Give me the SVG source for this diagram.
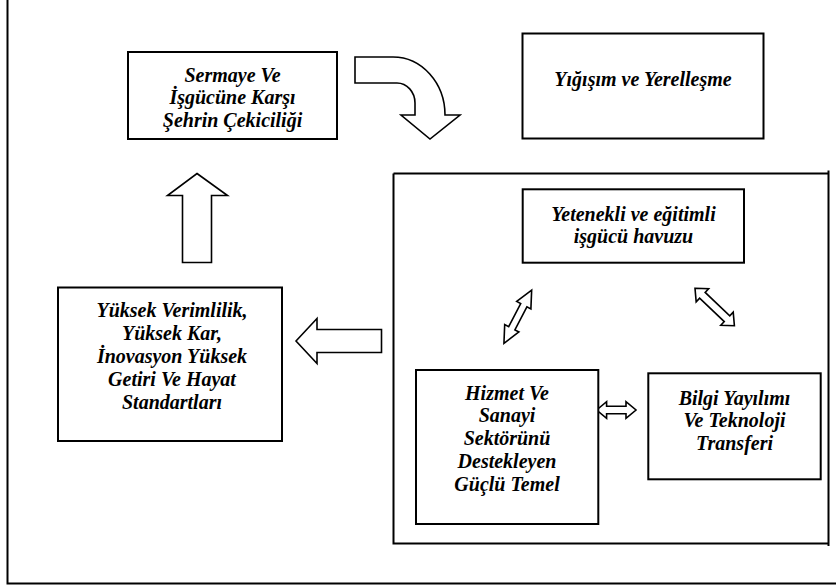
<svg xmlns="http://www.w3.org/2000/svg" width="836" height="587" viewBox="0 0 836 587">
<style>
  .box { fill: #fff; stroke: #000; stroke-width: 2; }
  .frame { fill: none; stroke: #000; stroke-width: 2; }
  .arrow { fill: #fff; stroke: #000; stroke-width: 1.6; stroke-linejoin: miter; }
  text { font-family: 'Liberation Serif', 'Times New Roman', Times, serif; font-size: 20px; font-weight: 700; font-style: italic; text-anchor: middle; fill: #000; }
</style>
<rect x="0" y="0" width="836" height="587" fill="#fff"/>
<g id="outer-frame">
  <path class="frame" d="M7.5,0 V583.5 H836"/>
</g>
<g id="inner-frame">
  <path class="frame" d="M393.5,173.5 H828.5 M828.5,170.5 V546 M393.5,173.5 V543.5 H828.5" stroke-width="1.6"/>
</g>
<g id="connectors">
  <path class="arrow" d="M355,57 L393,57 A52,58 0 0 1 445,115 L460,115 L430,139 L401,115 L415,115 L415,103 A18,20 0 0 0 397,83 L355,83 Z"/>
  <polygon class="arrow" points="197,173.5 227.5,195.5 211.5,195.5 211.5,262.5 182.5,262.5 182.5,195.5 167.5,195.5"/>
  <polygon class="arrow" points="296,341 317,318.5 317,329.5 381.5,329.5 381.5,352.5 317,352.5 317,363.5"/>
  <polygon class="arrow" transform="translate(517.8,316.7) rotate(-62.5)" points="-30,0 -13,-8 -13,-3.5 13,-3.5 13,-8 30,0 13,8 13,3.5 -13,3.5 -13,8"/>
  <polygon class="arrow" transform="translate(714.7,307) rotate(43.6)" points="-27.2,0 -17,-9 -17,-4 17,-4 17,-9 27.2,0 17,9 17,4 -17,4 -17,9"/>
  <polygon class="arrow" transform="translate(616.3,410)" points="-19.7,0 -9.7,-8.3 -9.7,-3.7 9.7,-3.7 9.7,-8.3 19.7,0 9.7,8.3 9.7,3.7 -9.7,3.7 -9.7,8.3"/>
</g>
<g id="n-sermaye">
  <rect class="box" x="128" y="52" width="209" height="87"/>
  <text x="232.5" y="81.5">Sermaye Ve</text>
  <text x="232.5" y="104.3">İşgücüne Karşı</text>
  <text x="232.5" y="127">Şehrin Çekiciliği</text>
</g>
<g id="n-yigisim">
  <rect class="box" x="522.5" y="33.5" width="241" height="105"/>
  <text x="643" y="86">Yığışım ve Yerelleşme</text>
</g>
<g id="n-yetenekli">
  <rect class="box" x="522.7" y="189.3" width="221.3" height="73.4"/>
  <text x="633.5" y="220.5">Yetenekli ve eğitimli</text>
  <text x="633.5" y="243.3">işgücü havuzu</text>
</g>
<g id="n-yuksek">
  <rect class="box" x="58" y="287.5" width="224" height="153.5"/>
  <text x="172" y="317.3">Yüksek Verimlilik,</text>
  <text x="172" y="340.2">Yüksek Kar,</text>
  <text x="172" y="363.2">İnovasyon Yüksek</text>
  <text x="172" y="386.2">Getiri Ve Hayat</text>
  <text x="172" y="409.2">Standartları</text>
</g>
<g id="n-hizmet">
  <rect class="box" x="416" y="370" width="182.3" height="154"/>
  <text x="507" y="399.5">Hizmet Ve</text>
  <text x="507" y="422.3">Sanayi</text>
  <text x="507" y="445">Sektörünü</text>
  <text x="507" y="468">Destekleyen</text>
  <text x="507" y="490.7">Güçlü Temel</text>
</g>
<g id="n-bilgi">
  <rect class="box" x="648.3" y="373.3" width="172.4" height="106"/>
  <text x="734.5" y="404.5">Bilgi Yayılımı</text>
  <text x="734.5" y="427.3">Ve Teknoloji</text>
  <text x="734.5" y="450">Transferi</text>
</g>
</svg>
